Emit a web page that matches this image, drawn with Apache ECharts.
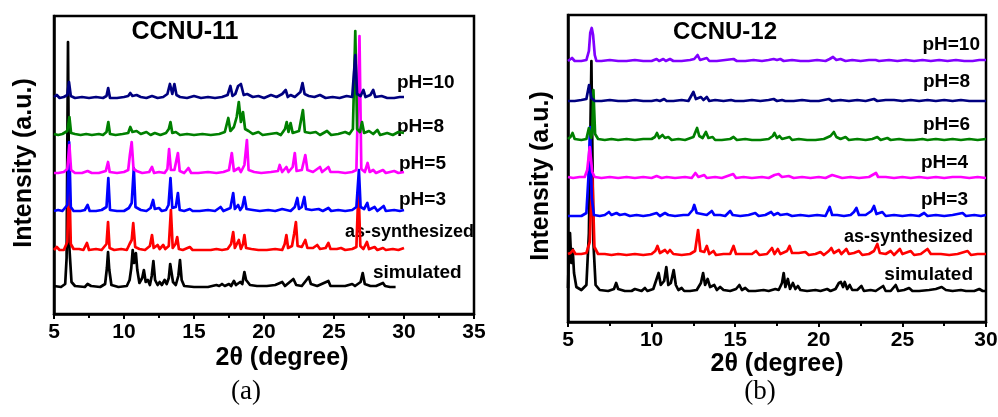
<!DOCTYPE html>
<html>
<head>
<meta charset="utf-8">
<script src="https://cdn.jsdelivr.net/npm/echarts/dist/echarts.min.js"></script>
<style>
  html, body { margin: 0; padding: 0; background: #fff; }
  #chart { width: 998px; height: 417px; }
</style>
</head>
<body>
<div id="chart"></div>
<script>
// ---------- Panel (a): CCNU-11 powder patterns, [2theta, intensity above baseline] ----------
const namesA = ['simulated', 'as-synthesized', 'pH=3', 'pH=5', 'pH=8', 'pH=10'];
const offsetsA = [26, 62, 101, 139, 177, 214];

const simA = [[5.0,2],[5.5,1],[5.8,4],[5.9,30],[6.0,246],[6.1,40],[6.25,6],[6.5,2],[7.2,1],[7.4,4],[7.5,6],[7.65,2],[8.3,1],[8.65,4],[8.78,20],[8.86,36],[8.95,18],[9.1,3],[9.6,1],[10.2,2],[10.4,8],[10.52,20],[10.62,38],[10.72,25],[10.85,35],[10.95,18],[11.1,5],[11.3,10],[11.42,18],[11.55,6],[11.7,8],[11.85,3],[11.98,12],[12.1,27],[12.22,8],[12.4,3],[12.55,6],[12.7,3],[12.9,8],[13.05,4],[13.2,10],[13.3,24],[13.4,22],[13.5,6],[13.7,3],[13.88,12],[14.0,28],[14.12,8],[14.3,2],[15,1],[16,1],[16.6,3],[16.8,2],[17.0,4],[17.2,2],[17.5,4],[17.65,2],[17.85,7],[18.0,3],[18.3,6],[18.45,4],[18.6,16],[18.72,8],[18.85,8],[19.0,3],[19.5,2],[20.2,2],[20.8,3],[21.3,6],[21.5,2],[22.1,9],[22.3,3],[22.7,2],[23.2,11],[23.35,4],[23.8,2],[24.6,7],[24.75,2],[25.3,2],[25.8,2],[26.3,4],[26.5,2],[26.9,6],[27.05,15],[27.2,4],[27.6,2],[28.0,2],[28.5,5],[28.65,2],[29.0,1],[29.4,1]];

const asA = [[5.0,2],[5.2,5],[5.4,2],[5.7,2],[5.95,10],[6.08,80],[6.2,8],[6.4,3],[6.8,3],[7.1,2],[7.35,9],[7.5,2],[8.0,3],[8.4,2],[8.75,8],[8.86,30],[8.97,4],[9.3,2],[9.8,3],[10.2,2],[10.4,8],[10.55,12],[10.66,29],[10.8,5],[11.1,3],[11.5,2],[11.85,6],[12.0,17],[12.12,4],[12.4,7],[12.55,3],[12.8,7],[12.95,3],[13.2,6],[13.35,42],[13.48,4],[13.68,8],[13.8,15],[13.92,3],[14.2,2],[14.7,5],[14.9,2],[15.5,2],[16.2,2],[16.6,3],[17.0,2],[17.4,3],[17.65,8],[17.8,20],[17.92,4],[18.2,12],[18.35,3],[18.5,8],[18.6,17],[18.72,4],[19.1,3],[19.6,2],[20.2,2],[20.8,3],[21.3,2],[21.48,8],[21.6,17],[21.72,4],[22.0,6],[22.15,18],[22.28,30],[22.4,6],[22.7,5],[22.95,12],[23.1,4],[23.5,4],[23.8,7],[24.0,3],[24.4,4],[24.6,9],[24.75,3],[25.2,3],[25.5,4],[25.8,2],[26.3,3],[26.6,5],[26.75,65],[26.88,6],[27.1,3],[27.35,10],[27.5,3],[27.9,5],[28.1,2],[28.5,4],[28.7,2],[29.2,3],[29.6,2],[30.0,4]];

const ph3A = [[5.0,2],[5.3,3],[5.6,2],[5.95,8],[6.08,71],[6.2,6],[6.4,2],[6.9,2],[7.2,3],[7.4,8],[7.55,2],[8.0,2],[8.4,3],[8.75,6],[8.88,35],[9.0,3],[9.5,2],[10.0,2],[10.35,5],[10.55,10],[10.7,45],[10.82,6],[11.2,3],[11.6,2],[11.9,5],[12.08,13],[12.2,4],[12.5,5],[12.7,2],[13.0,3],[13.18,8],[13.32,35],[13.45,5],[13.7,6],[13.85,20],[13.98,3],[14.3,2],[14.7,4],[14.9,2],[15.4,2],[16.0,3],[16.5,2],[16.9,6],[17.1,2],[17.6,5],[17.8,20],[17.92,4],[18.15,8],[18.3,3],[18.45,6],[18.6,16],[18.75,4],[19.2,3],[19.7,2],[20.3,3],[20.8,2],[21.3,4],[21.6,3],[21.9,2],[22.2,6],[22.38,15],[22.5,4],[22.7,6],[22.88,16],[23.0,4],[23.4,3],[23.9,4],[24.2,2],[24.6,5],[24.8,2],[25.3,3],[25.8,2],[26.3,3],[26.6,6],[26.78,43],[26.9,6],[27.15,4],[27.38,10],[27.5,3],[27.9,6],[28.1,2],[28.55,7],[28.7,2],[29.3,3],[29.7,2],[30.0,3]];

const ph5A = [[5.0,2],[5.3,2],[5.7,3],[5.95,6],[6.1,30],[6.22,5],[6.5,2],[7.0,2],[7.4,4],[7.7,2],[8.2,2],[8.7,4],[8.86,13],[8.98,3],[9.5,2],[10.0,3],[10.3,5],[10.42,20],[10.55,33],[10.68,6],[10.9,4],[11.3,2],[11.8,3],[12.0,8],[12.15,2],[12.5,3],[12.9,2],[13.1,6],[13.22,26],[13.35,5],[13.6,5],[13.85,22],[13.98,4],[14.3,2],[14.6,7],[14.8,2],[15.3,2],[16.0,3],[16.6,2],[17.1,3],[17.5,5],[17.7,22],[17.85,4],[18.2,7],[18.35,3],[18.6,10],[18.78,35],[18.9,5],[19.3,3],[19.8,2],[20.5,3],[21.0,4],[21.12,10],[21.3,3],[21.6,8],[21.75,3],[22.05,8],[22.2,22],[22.33,4],[22.7,5],[22.95,20],[23.1,5],[23.5,3],[24.0,8],[24.15,3],[24.6,8],[24.75,3],[25.3,3],[25.8,2],[26.3,3],[26.6,5],[26.82,139],[26.95,6],[27.2,3],[27.4,12],[27.55,3],[27.8,5],[28.0,2],[28.5,5],[28.7,2],[29.3,4],[29.6,2],[30.0,3]];

const ph8A = [[5.0,3],[5.3,2],[5.6,3],[5.95,6],[6.1,20],[6.22,4],[6.5,3],[6.9,2],[7.3,3],[7.7,2],[8.2,3],[8.5,2],[8.75,5],[8.88,15],[9.0,3],[9.4,2],[9.9,3],[10.3,4],[10.45,10],[10.6,5],[10.9,6],[11.2,3],[11.6,5],[11.9,2],[12.2,4],[12.6,2],[13.0,4],[13.2,8],[13.32,15],[13.45,4],[13.7,5],[14.0,2],[14.5,3],[15.0,2],[15.6,3],[16.2,2],[16.8,3],[17.2,5],[17.45,19],[17.6,6],[17.85,10],[18.05,20],[18.2,35],[18.35,15],[18.5,25],[18.65,8],[18.9,6],[19.2,3],[19.6,5],[19.9,2],[20.4,3],[20.9,4],[21.2,2],[21.5,8],[21.62,15],[21.75,5],[21.9,14],[22.05,4],[22.5,6],[22.78,27],[22.92,5],[23.3,4],[23.7,5],[24.0,2],[24.5,6],[24.8,2],[25.3,3],[25.8,5],[26.1,3],[26.35,8],[26.52,106],[26.65,8],[26.85,5],[27.0,15],[27.15,4],[27.5,6],[27.8,3],[28.1,7],[28.3,2],[28.8,4],[29.2,2],[29.6,5],[30.0,4]];

const ph10A = [[5.0,3],[5.2,5],[5.4,2],[5.7,3],[5.95,5],[6.07,18],[6.2,4],[6.5,2],[7.0,3],[7.5,2],[8.0,3],[8.5,2],[8.75,4],[8.87,12],[9.0,2],[9.5,2],[10.0,3],[10.3,4],[10.45,7],[10.6,4],[10.9,5],[11.2,3],[11.6,2],[12.0,4],[12.4,2],[12.8,3],[13.1,6],[13.28,16],[13.45,6],[13.6,16],[13.75,5],[14.0,3],[14.5,2],[15.0,4],[15.5,2],[16.0,3],[16.5,2],[17.0,3],[17.4,5],[17.6,14],[17.75,4],[17.95,6],[18.15,14],[18.35,16],[18.55,5],[18.8,6],[19.2,3],[19.6,4],[20.0,2],[20.5,5],[20.9,3],[21.3,6],[21.55,10],[21.7,3],[21.9,5],[22.2,3],[22.6,8],[22.75,17],[22.9,6],[23.2,4],[23.6,3],[24.0,5],[24.4,2],[24.9,3],[25.4,2],[25.9,4],[26.3,3],[26.52,45],[26.65,6],[26.9,4],[27.1,10],[27.25,3],[27.6,5],[27.8,10],[27.95,3],[28.4,4],[28.8,2],[29.3,2],[29.7,3],[30.0,3]];

// ---------- Panel (b): CCNU-12 powder patterns ----------
const namesB = ['simulated', 'as-synthesized', 'pH=3', 'pH=4', 'pH=6', 'pH=8', 'pH=10'];
const offsetsB = [29, 65, 104, 142, 180, 219, 259];

const simB = [[5.0,5],[5.05,40],[5.12,60],[5.2,30],[5.28,44],[5.36,20],[5.5,6],[5.8,3],[6.1,8],[6.25,60],[6.4,232],[6.52,50],[6.65,8],[6.9,3],[7.4,2],[7.75,4],[7.88,10],[8.0,4],[8.4,2],[8.8,2],[9.0,4],[9.1,2],[9.4,2],[9.6,5],[9.75,2],[10.1,4],[10.32,15],[10.42,20],[10.55,8],[10.75,12],[10.88,26],[11.0,8],[11.15,10],[11.32,23],[11.45,8],[11.6,3],[11.8,5],[11.95,2],[12.3,2],[12.7,3],[12.95,10],[13.08,20],[13.2,8],[13.35,14],[13.5,6],[13.75,8],[13.9,3],[14.1,6],[14.3,3],[14.7,2],[15.05,4],[15.25,8],[15.4,3],[15.6,5],[15.8,2],[16.2,2],[16.7,3],[17.0,2],[17.4,4],[17.6,3],[17.8,10],[17.9,20],[18.0,6],[18.15,14],[18.28,4],[18.45,10],[18.6,4],[18.75,7],[18.9,3],[19.3,2],[19.8,3],[20.1,2],[20.5,4],[20.7,2],[21.0,4],[21.2,10],[21.32,11],[21.45,6],[21.55,11],[21.7,4],[21.85,8],[22.0,3],[22.3,3],[22.55,7],[22.7,2],[23.1,3],[23.4,2],[23.85,7],[24.0,2],[24.3,2],[24.6,8],[24.75,2],[25.1,3],[25.4,5],[25.6,2],[26.0,2],[26.6,3],[27.0,4],[27.35,6],[27.6,3],[28.0,2],[28.5,3],[28.8,2],[29.3,2],[29.6,4],[29.8,2],[30.0,2]];

const asB = [[5.0,3],[5.15,4],[5.3,7],[5.45,3],[5.8,3],[6.1,4],[6.3,15],[6.45,85],[6.58,10],[6.8,3],[7.2,3],[7.6,2],[8.0,3],[8.5,2],[9.0,3],[9.5,2],[10.0,3],[10.22,6],[10.35,11],[10.5,4],[10.8,7],[10.95,4],[11.1,7],[11.3,3],[11.8,2],[12.3,3],[12.6,6],[12.78,27],[12.92,6],[13.15,5],[13.3,11],[13.45,3],[13.7,6],[13.85,2],[14.3,3],[14.7,3],[14.9,11],[15.05,3],[15.5,3],[16.0,3],[16.25,6],[16.45,2],[16.9,3],[17.2,9],[17.35,3],[17.55,8],[17.7,3],[18.1,6],[18.25,11],[18.4,4],[18.8,4],[19.2,5],[19.4,2],[19.8,3],[20.1,5],[20.3,2],[20.6,6],[20.75,9],[20.9,4],[21.2,7],[21.35,3],[21.65,8],[21.8,3],[22.1,4],[22.4,6],[22.6,2],[23.0,3],[23.3,6],[23.5,13],[23.65,4],[24.0,3],[24.3,6],[24.5,2],[24.85,8],[25.0,3],[25.5,6],[25.7,2],[26.1,3],[26.5,8],[26.7,3],[27.3,3],[27.8,2],[28.3,3],[28.9,6],[29.1,2],[29.5,3],[30.0,3]];

const ph3B = [[5.0,2],[5.4,2],[5.8,2],[6.1,5],[6.22,40],[6.32,91],[6.42,20],[6.55,3],[6.9,2],[7.2,3],[7.45,6],[7.6,3],[7.9,5],[8.1,3],[8.4,4],[8.7,2],[9.1,3],[9.5,2],[9.9,3],[10.3,5],[10.5,2],[10.8,5],[11.0,3],[11.4,2],[11.9,3],[12.2,3],[12.45,8],[12.55,13],[12.7,5],[13.0,4],[13.3,3],[13.6,7],[13.75,3],[14.1,3],[14.4,2],[14.7,7],[14.85,3],[15.3,2],[15.8,3],[16.2,5],[16.4,2],[16.8,3],[17.15,6],[17.3,3],[17.55,5],[17.7,3],[18.1,4],[18.4,2],[18.9,3],[19.4,2],[19.9,3],[20.4,2],[20.65,11],[20.8,3],[21.1,3],[21.5,2],[21.9,3],[22.1,6],[22.25,10],[22.4,3],[22.8,3],[23.15,7],[23.3,12],[23.45,4],[23.8,6],[24.0,2],[24.5,3],[25.0,2],[25.5,3],[26.0,2],[26.3,5],[26.5,2],[27.0,3],[27.5,2],[28.0,3],[28.6,5],[28.8,2],[29.3,3],[29.7,2],[30.0,3]];

const ph4B = [[5.0,3],[5.3,2],[5.7,3],[6.0,3],[6.15,10],[6.3,33],[6.45,8],[6.6,3],[7.0,2],[7.5,3],[8.0,2],[8.5,3],[9.0,2],[9.5,3],[10.0,2],[10.3,4],[10.6,2],[10.9,3],[11.4,2],[12.0,3],[12.4,2],[12.62,7],[12.8,3],[13.15,5],[13.3,2],[13.8,3],[14.2,2],[14.88,6],[15.05,2],[15.5,3],[16.0,2],[16.6,3],[17.0,2],[17.35,5],[17.6,6],[17.8,3],[18.2,4],[18.5,2],[19.0,3],[19.5,2],[20.0,3],[20.4,2],[20.8,5],[21.0,4],[21.4,2],[21.9,3],[22.4,2],[23.0,3],[23.42,7],[23.55,3],[24.0,3],[24.5,2],[25.0,3],[25.5,2],[26.0,3],[26.5,2],[27.0,3],[27.5,2],[28.0,3],[28.5,3],[29.0,2],[29.5,3],[30.0,2]];

const ph6B = [[5.0,3],[5.15,5],[5.27,9],[5.4,3],[5.8,2],[6.1,3],[6.25,14],[6.38,4],[6.45,10],[6.52,52],[6.62,8],[6.8,3],[7.2,2],[7.6,3],[8.0,2],[8.5,3],[9.0,2],[9.5,3],[10.0,3],[10.2,5],[10.32,9],[10.45,4],[10.65,7],[10.8,4],[11.0,5],[11.2,2],[11.6,3],[12.0,2],[12.5,5],[12.72,14],[12.85,6],[13.05,4],[13.25,10],[13.4,4],[13.65,5],[13.8,2],[14.2,2],[14.7,3],[14.9,5],[15.1,2],[15.6,3],[16.0,2],[16.5,2],[17.0,3],[17.25,6],[17.35,9],[17.5,4],[17.65,6],[17.8,3],[18.25,5],[18.4,2],[18.8,3],[19.3,2],[19.8,2],[20.3,3],[20.7,6],[20.9,10],[21.05,5],[21.3,3],[21.6,5],[21.8,2],[22.3,3],[22.8,2],[23.2,3],[23.5,5],[23.7,2],[24.1,4],[24.3,2],[24.8,3],[25.2,2],[25.7,2],[26.2,3],[26.5,2],[27.0,3],[27.5,2],[28.0,3],[28.5,2],[29.0,3],[29.5,2],[30.0,3]];

const ph8B = [[5.0,2],[5.4,2],[5.8,3],[6.1,4],[6.26,18],[6.4,5],[6.6,2],[7.0,2],[7.5,3],[8.0,2],[8.5,2],[9.0,3],[9.5,2],[10.0,2],[10.3,3],[10.5,2],[10.75,4],[10.9,2],[11.3,2],[11.8,3],[12.2,2],[12.5,11],[12.65,4],[12.95,6],[13.1,3],[13.3,6],[13.45,2],[13.8,3],[14.3,2],[14.75,3],[15.0,2],[15.5,2],[16.0,3],[16.5,2],[17.0,3],[17.3,4],[17.5,2],[17.8,3],[18.0,2],[18.5,2],[19.0,3],[19.5,2],[20.0,2],[20.6,4],[20.8,2],[21.3,3],[21.8,2],[22.3,3],[22.8,2],[23.3,4],[23.5,2],[24.0,3],[24.5,3],[25.0,2],[25.5,3],[26.0,2],[26.5,3],[27.0,2],[27.5,3],[28.0,2],[28.5,3],[29.0,2],[29.5,2],[30.0,2]];

const ph10B = [[5.0,2],[5.24,5],[5.4,2],[5.8,2],[6.1,3],[6.25,12],[6.33,30],[6.42,35],[6.5,28],[6.6,8],[6.7,2],[7.0,2],[7.5,3],[8.0,2],[8.5,2],[9.0,3],[9.5,2],[10.0,2],[10.3,4],[10.45,2],[10.7,4],[10.85,2],[11.1,4],[11.3,2],[11.8,2],[12.3,3],[12.55,4],[12.75,8],[12.9,3],[13.3,5],[13.45,2],[13.9,2],[14.4,3],[14.9,4],[15.1,2],[15.6,2],[16.1,3],[16.6,2],[17.0,3],[17.3,4],[17.5,3],[17.7,4],[17.9,2],[18.4,3],[18.9,2],[19.4,2],[19.9,3],[20.4,2],[20.65,4],[20.85,6],[21.05,3],[21.3,4],[21.6,2],[22.0,3],[22.5,2],[23.0,3],[23.4,3],[23.6,2],[24.2,3],[24.7,2],[25.2,3],[25.7,2],[26.2,3],[26.7,2],[27.2,3],[27.7,2],[28.2,3],[28.7,2],[29.2,2],[29.6,3],[30.0,3]];

const xTicksA = { min: 5, max: 35, interval: 5 };
const xTicksB = { min: 5, max: 30, interval: 5 };

// ---------- styling ----------
const SANS = 'Liberation Sans, Arial, sans-serif';
const colorsA = ['#000000', '#ff0000', '#0000ff', '#ff00ff', '#008000', '#000080'];
const colorsB = ['#000000', '#ff0000', '#0000ff', '#ff00ff', '#008000', '#000080', '#8000ff'];
const patternsA = [simA, asA, ph3A, ph5A, ph8A, ph10A];
const patternsB = [simB, asB, ph3B, ph4B, ph6B, ph8B, ph10B];

// shift each pattern up by its stacking offset
function stacked(points, offset) {
  return points.map(p => [p[0], p[1] + offset]);
}

function makeSeries(patterns, offsets, names, colors, axisIndex) {
  return patterns.map((pts, i) => ({
    type: 'line',
    name: names[i],
    xAxisIndex: axisIndex,
    yAxisIndex: axisIndex,
    data: stacked(pts, offsets[i]),
    showSymbol: false,
    symbol: 'none',
    smooth: false,
    silent: true,
    animation: false,
    lineStyle: { color: colors[i], width: 2.7, join: 'round' },
    z: 2
  }));
}

function xAxisDef(gridIndex, ticks) {
  return {
    type: 'value',
    gridIndex: gridIndex,
    min: ticks.min, max: ticks.max, interval: ticks.interval,
    axisLine: { show: true, lineStyle: { color: '#000', width: 2.5 } },
    axisTick: { show: true, length: 5, lineStyle: { color: '#000', width: 2 } },
    minorTick: { show: true, splitNumber: 2, length: 4, lineStyle: { color: '#000', width: 2 } },
    splitLine: { show: false },
    axisLabel: { color: '#000', fontSize: 21, fontWeight: 'bold', fontFamily: SANS, margin: 8 }
  };
}

function yAxisDef(gridIndex, top) {
  return {
    type: 'value', gridIndex: gridIndex, min: 0, max: top,
    axisLine: { show: true, lineStyle: { color: '#000', width: 2.5 } },
    axisTick: { show: false }, axisLabel: { show: false }, splitLine: { show: false }
  };
}

function label(text, x, y, align, size, extra) {
  return Object.assign({
    type: 'text', x: x, y: y, silent: true,
    style: {
      text: text, fill: '#000', font: 'bold ' + size + 'px ' + SANS,
      textAlign: align, textVerticalAlign: 'middle'
    }
  }, extra || {});
}

const chart = echarts.init(document.getElementById('chart'), null, { renderer: 'canvas' });

const graphics = [
  // panel titles
  label('CCNU-11', 185, 32, 'center', 25),
  label('CCNU-12', 725, 32, 'center', 24),
  // trace labels, panel (a)
  label('pH=10', 397, 83, 'left', 19),
  label('pH=8', 397, 127, 'left', 19),
  label('pH=5', 399, 164, 'left', 19),
  label('pH=3', 399, 200, 'left', 19),
  label('as-synthesized', 345, 232, 'left', 18),
  label('simulated', 373, 273, 'left', 19),
  // trace labels, panel (b)
  label('pH=10', 980, 45, 'right', 19),
  label('pH=8', 970, 82, 'right', 19),
  label('pH=6', 970, 125, 'right', 19),
  label('pH=4', 968, 163, 'right', 19),
  label('pH=3', 968, 200, 'right', 19),
  label('as-synthesized', 973, 237, 'right', 18),
  label('simulated', 973, 275, 'right', 19),
  // axis titles
  label('2θ (degree)', 282, 358, 'center', 25),
  label('2θ (degree)', 777, 364, 'center', 25),
  label('Intensity (a.u.)', 24, 163, 'center', 25, { rotation: Math.PI / 2 }),
  label('Intensity (a.u.)', 541, 176, 'center', 25, { rotation: Math.PI / 2 }),
  // panel letters
  {
    type: 'text', x: 246, y: 392, silent: true,
    style: { text: '(a)', fill: '#000', font: '27px Liberation Serif, Times New Roman, serif',
             textAlign: 'center', textVerticalAlign: 'middle' }
  },
  {
    type: 'text', x: 760, y: 392, silent: true,
    style: { text: '(b)', fill: '#000', font: '27px Liberation Serif, Times New Roman, serif',
             textAlign: 'center', textVerticalAlign: 'middle' }
  }
];

chart.setOption({
  animation: false,
  backgroundColor: '#fff',
  grid: [
    { left: 54, top: 16, width: 420, height: 298, show: true, borderColor: '#000', borderWidth: 2.5,
      backgroundColor: 'transparent', containLabel: false, outerBoundsMode: 'none' },
    { left: 568, top: 15, width: 418, height: 307, show: true, borderColor: '#000', borderWidth: 2.5,
      backgroundColor: 'transparent', containLabel: false, outerBoundsMode: 'none' }
  ],
  xAxis: [xAxisDef(0, xTicksA), xAxisDef(1, xTicksB)],
  yAxis: [yAxisDef(0, 298), yAxisDef(1, 307)],
  series: makeSeries(patternsA, offsetsA, namesA, colorsA, 0)
    .concat(makeSeries(patternsB, offsetsB, namesB, colorsB, 1)),
  graphic: graphics
});
</script>
</body>
</html>
